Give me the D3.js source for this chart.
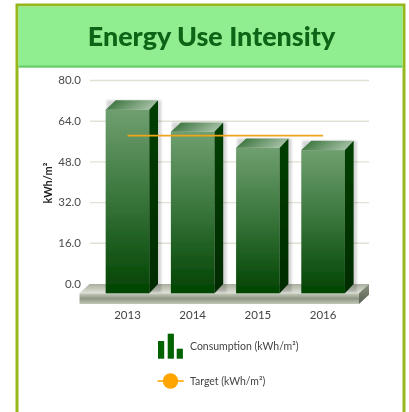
<!DOCTYPE html>
<html><head><meta charset="utf-8">
<script src="https://cdn.jsdelivr.net/npm/d3@7/dist/d3.min.js"></script>
<style>html,body{margin:0;padding:0;background:#fff}svg{display:block}text{font-family:Lato,sans-serif}</style>
</head><body><svg id="c" width="409" height="412"></svg>
<script>
const categories=["2013","2014","2015","2016"];
const consumption=[72.2,63.5,57.2,56.3];
const target=[62,62,62,62];
const yTicks=[0,16,32,48,64,80];
const title="Energy Use Intensity";
const yTitle="kWh/m²";
const legendLabels=["Consumption (kWh/m²)","Target (kWh/m²)"];

const svg=d3.select("#c");
const defs=svg.append("defs");
function grad(id,stops,x2=0,y2=1){const g=defs.append("linearGradient").attr("id",id).attr("x1",0).attr("y1",0).attr("x2",x2).attr("y2",y2);
 stops.forEach(([o,c])=>g.append("stop").attr("offset",o).attr("stop-color",c));}
grad("front",[[0,"#6f9f6f"],[.5,"#37743a"],[1,"#014301"]]);
grad("top",[[0,"#2c6a30"],[1,"#a3bfa3"]],1,0.25);
grad("side",[[0,"#013f01"],[1,"#012b01"]]);
grad("floorFront",[[0,"#c4cabb"],[.5,"#8f9784"],[1,"#c2c8b9"]]);
grad("floorTop",[[0,"#a9af9e"],[1,"#dfe2d9"]]);
grad("floorSide",[[0,"#8a907e"],[1,"#596052"]]);
const sh=defs.append("filter").attr("id","sh").attr("x","-20%").attr("y","-20%").attr("width","140%").attr("height","140%");
sh.append("feGaussianBlur").attr("stdDeviation",1.2);
const soft=defs.append("filter").attr("id","soft");
soft.append("feGaussianBlur").attr("stdDeviation",0.35);

const root=svg.append("g").attr("filter","url(#soft)");
// frame + header
root.append("rect").attr("x",17).attr("y",5).attr("width",387).attr("height",420).attr("fill","#fff").attr("stroke","#96b81e").attr("stroke-width",3);
root.append("rect").attr("x",18.5).attr("y",6.5).attr("width",384).attr("height",60).attr("fill","#90ee90");
root.append("rect").attr("x",18.5).attr("y",65.5).attr("width",384).attr("height",2.2).attr("fill","#66cc66");
root.append("text").attr("x",211.5).attr("y",46).attr("text-anchor","middle").attr("font-size",26.9).attr("font-weight",900).attr("fill","#0b6415").text(title);

const dx=10,dy=9.3;
const x=d3.scaleBand().domain(categories).range([84.1,366.5]).paddingInner(.331).paddingOuter(.331);
const y=d3.scaleLinear().domain([0,80]).range([293.3,89.8]);

// grid (back plane)
root.append("g").selectAll("line").data(yTicks.filter(d=>d>0)).join("line")
 .attr("x1",90).attr("x2",369).attr("y1",d=>y(d)-dy).attr("y2",d=>y(d)-dy).attr("stroke","#dfe2d4").attr("stroke-width",1.4);
// y labels
root.append("g").selectAll("text").data(yTicks).join("text").attr("x",81).attr("y",d=>y(d)-dy+3.8)
 .attr("text-anchor","end").attr("font-size",11.5).attr("fill","#4a4a4a").text(d=>d.toFixed(1));
root.append("text").attr("transform","translate(52,183) rotate(-90)").attr("text-anchor","middle").attr("font-size",11).attr("font-weight",700).attr("fill","#222").text(yTitle);
// floor
const fl=x.range()[0]-4.6, fr=fl+279.5, fb=y(0), fh=10.7;
root.append("path").attr("d",`M${fl},${fb}L${fl+dx},${fb-dy}H${fr+dx}L${fr},${fb}Z`).attr("fill","url(#floorTop)");
root.append("rect").attr("x",fl).attr("y",fb).attr("width",fr-fl).attr("height",fh).attr("fill","url(#floorFront)");
root.append("path").attr("d",`M${fr},${fb}L${fr+dx},${fb-dy}V${fb-dy+fh}L${fr},${fb+fh}Z`).attr("fill","url(#floorSide)");
// bars
const bars=root.append("g").selectAll("g").data(categories.map((c,i)=>({c,v:consumption[i]}))).join("g");
bars.append("path").attr("filter","url(#sh)").attr("fill","#000").attr("opacity",.16)
 .attr("d",d=>{const a=x(d.c)+1,b=a+x.bandwidth()+dx+1,t=y(d.v)-dy;return `M${a},${t}H${b}V${y(0)-dy+8}H${a}Z`;});
bars.append("rect").attr("x",d=>x(d.c)).attr("y",d=>y(d.v)).attr("width",x.bandwidth()).attr("height",d=>y(0)-y(d.v)).attr("fill","url(#front)");
bars.append("path").attr("fill","url(#top)").attr("d",d=>{const a=x(d.c),b=a+x.bandwidth(),t=y(d.v);return `M${a},${t}L${a+dx},${t-dy}H${b+dx*.87}L${b},${t}Z`;});
bars.append("path").attr("fill","url(#side)").attr("d",d=>{const b=x(d.c)+x.bandwidth(),t=y(d.v);return `M${b},${t}L${b+dx*.87},${t-dy}V${y(0)-dy}L${b},${y(0)}Z`;});
// target line
const line=d3.line().x(d=>d[0]).y(d=>y(d[1]));
const tp=categories.map((c,i)=>[x(c)+x.bandwidth()/2,target[i]]);
root.append("path").attr("d",line(tp)).attr("fill","none").attr("stroke","#eda51f").attr("stroke-width",1.8);
// x labels
root.append("g").selectAll("text").data(categories).join("text").attr("x",d=>x(d)+x.bandwidth()/2).attr("y",319)
 .attr("text-anchor","middle").attr("font-size",11.5).attr("fill","#444").text(d=>d);
// legend
const lb=[[158,341],[167.7,333.7],[176.7,348.7]];
root.append("g").selectAll("rect").data(lb).join("rect").attr("x",d=>d[0]).attr("y",d=>d[1]).attr("width",6.2).attr("height",d=>358.7-d[1]).attr("fill","#006400");
root.append("text").attr("x",190).attr("y",350).attr("font-size",10.5).attr("fill","#444").text(legendLabels[0]);
root.append("line").attr("x1",157.5).attr("x2",183.7).attr("y1",381).attr("y2",381).attr("stroke","#ffa500").attr("stroke-width",1.6);
root.append("circle").attr("cx",170.5).attr("cy",381).attr("r",7.7).attr("fill","#ffa500");
root.append("text").attr("x",190).attr("y",385).attr("font-size",10.5).attr("fill","#444").text(legendLabels[1]);
</script></body></html>
